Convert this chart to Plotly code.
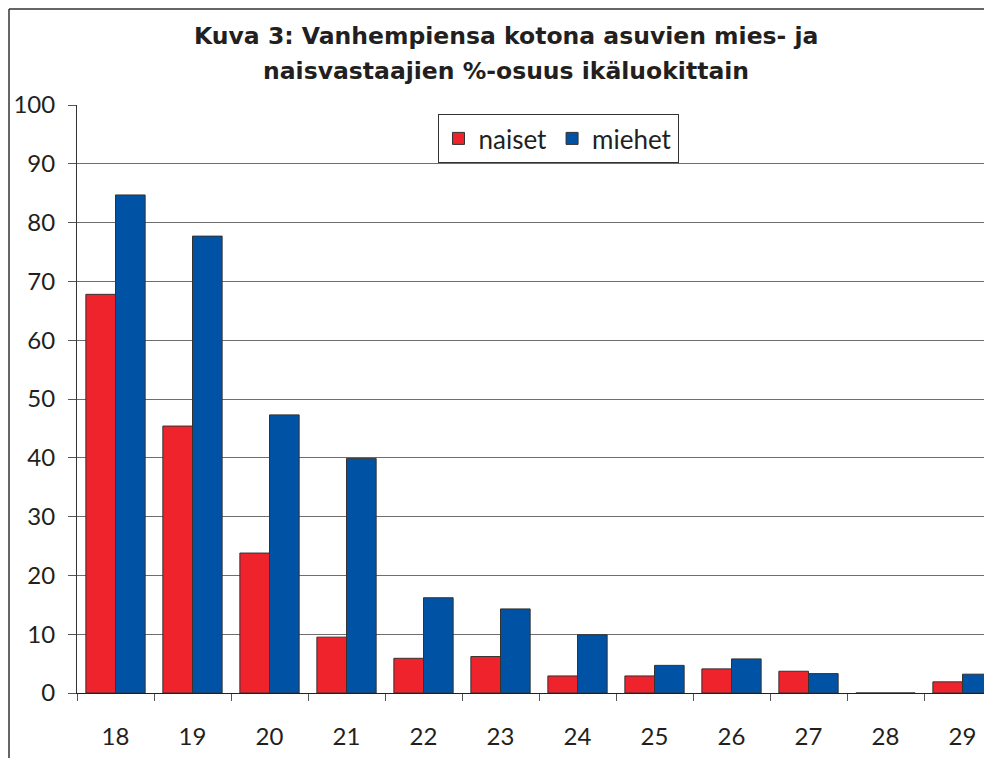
import plotly.graph_objects as go

ages = ["18", "19", "20", "21", "22", "23", "24", "25", "26", "27", "28", "29"]
naiset = [67.8, 45.4, 23.8, 9.5, 5.9, 6.2, 2.9, 2.9, 4.1, 3.7, 0, 1.9]
miehet = [84.7, 77.7, 47.3, 39.9, 16.2, 14.3, 9.9, 4.7, 5.8, 3.3, 0, 3.2]
y_ticks = [0, 10, 20, 30, 40, 50, 60, 70, 80, 90, 100]
title_lines = ["Kuva 3: Vanhempiensa kotona asuvien mies- ja",
               "naisvastaajien %-osuus ikäluokittain"]

FONT = "Lato"
TFONT = "DejaVu Sans"

# page has an 8px body margin; figure coordinates are page coordinates - 8
OFF = 8
W, H = 984, 750
L, T = 77 - OFF, 105 - OFF
B = H - (693 - OFF)
PW = W - L
PH = H - T - B
cat_px = 77.0


def px(xp):
    return (xp - OFF - L) / PW


def py(yp):
    return (H - B - (yp - OFF)) / PH


fig = go.Figure()
fig.add_trace(go.Bar(x=ages, y=naiset, name="naiset",
                     marker=dict(color="#EE232B", line=dict(color="#333333", width=1))))
fig.add_trace(go.Bar(x=ages, y=miehet, name="miehet",
                     marker=dict(color="#0052A5", line=dict(color="#333333", width=1))))

fig.update_layout(
    width=W, height=H,
    margin=dict(l=L, r=0, t=T, b=B, pad=0, autoexpand=False),
    paper_bgcolor="white", plot_bgcolor="white",
    barmode="group", bargap=0.23, bargroupgap=0,
    font=dict(family=FONT, size=24, color="#231F20"),
    legend=dict(
        orientation="h", x=px(558), y=py(114), xanchor="center", yanchor="top",
        bgcolor="white", bordercolor="#333333", borderwidth=1,
        font=dict(family=FONT, size=26, color="#231F20"),
    ),
    xaxis=dict(
        range=[-0.5, -0.5 + PW / cat_px], tickson="boundaries", ticks="outside",
        ticklen=7, tickcolor="#555555", showline=True, linecolor="#231F20",
        linewidth=1, showgrid=False, ticklabelstandoff=22, automargin=False,
        tickfont=dict(family=FONT, size=24), fixedrange=True,
    ),
    yaxis=dict(
        range=[0, 100], tickvals=y_ticks, ticks="outside", ticklen=8,
        tickcolor="#555555", showline=True, linecolor="#333333", linewidth=1,
        showgrid=True, gridcolor="#6E6E6E", gridwidth=1, zeroline=False,
        ticklabelstandoff=8, automargin=False,
        tickfont=dict(family=FONT, size=24), fixedrange=True,
    ),
    showlegend=True,
)

for line, ypx in zip(title_lines, [36, 71]):
    fig.add_annotation(text="<b>" + line + "</b>", xref="paper", yref="paper",
                       x=px(506), y=py(ypx),
                       xanchor="center", yanchor="middle", showarrow=False,
                       font=dict(family=TFONT, size=23.5, color="#231F20"))

# outer chart frame (left and top edges visible in the crop)
fx = px(OFF + 1)
fy = py(OFF + 1)
fig.add_shape(type="line", xref="paper", yref="paper", x0=fx, x1=1.1,
              y0=fy, y1=fy, line=dict(color="#333333", width=1.5))
fig.add_shape(type="line", xref="paper", yref="paper", x0=fx, x1=fx,
              y0=fy, y1=-0.2, line=dict(color="#333333", width=1.5))

fig.write_html("out.html")
